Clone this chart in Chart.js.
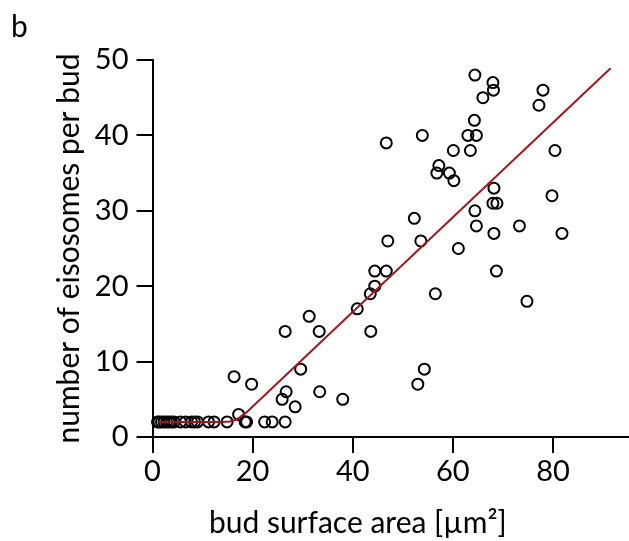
<!DOCTYPE html>
<html><head><meta charset="utf-8">
<script src="https://cdn.jsdelivr.net/npm/chart.js@4/dist/chart.umd.min.js"></script>
<style>html,body{margin:0;padding:0;background:#fff;}canvas{display:block;}</style>
</head><body>
<canvas id="c" width="629" height="541"></canvas>
<script>
// bud surface area [µm²]
const budArea = [1.0, 1.3, 1.8, 2.3, 2.8, 3.3, 3.8, 4.3, 5.6, 6.6, 7.8, 8.4, 9.0, 11.2, 12.3,
  14.9, 17.2, 18.5, 18.8, 16.3, 19.8, 22.4, 23.9, 26.5, 26.5, 25.9, 26.7, 28.5, 29.6, 31.3,
  33.3, 33.4, 38.0, 40.9, 43.6, 43.5, 44.4, 44.4, 46.7, 47.0, 46.7, 52.3, 53.0, 54.3, 53.6,
  53.9, 56.5, 56.8, 57.2, 59.3, 60.1, 60.2, 61.1, 63.0, 63.5, 64.3, 64.4, 64.7, 64.4, 64.7,
  66.0, 68.0, 68.1, 68.2, 68.0, 68.8, 68.2, 68.7, 70.9, 73.3, 74.8, 77.2, 78.0, 79.8, 80.4,
  81.8, 91.5];
// number of eisosomes per bud
const eisosomes = [2, 2, 2, 2, 2, 2, 2, 2, 2, 2, 2, 2, 2, 2, 2,
  2, 3, 2, 2, 8, 7, 2, 2, 2, 14, 5, 6, 4, 9, 16,
  14, 6, 5, 17, 14, 19, 20, 22, 22, 26, 39, 29, 7, 9, 26,
  40, 19, 35, 36, 35, 38, 34, 25, 40, 38, 42, 48, 40, 30, 28,
  45, 47, 46, 33, 31, 31, 27, 22, 51, 28, 18, 44, 46, 32, 38,
  27, 43];
// fitted curve
const fitArea = [1.2, 14.0, 15.5, 16.5, 17.5, 18.8, 91.5];
const fitCount = [2, 2, 2.05, 2.25, 2.65, 3.3, 48.9];
const xTickValues = [0, 20, 40, 60, 80];
const yTickValues = [0, 10, 20, 30, 40, 50];

const FONT = 'Lato';
const FS = 29;
const TFS = 30;
const scatterData = budArea.map((x, i) => ({x: x, y: eisosomes[i]}));
const fitData = fitArea.map((x, i) => ({x: x, y: fitCount[i]}));

const extendAxis = {
  id: 'extendAxis',
  afterDraw(chart) {
    const {ctx, chartArea} = chart;
    const y = Math.round(chart.scales.x.top);
    ctx.save();
    ctx.strokeStyle = '#000';
    ctx.lineWidth = 2;
    ctx.beginPath();
    ctx.moveTo(chartArea.right - 1, y);
    ctx.lineTo(chart.width, y);
    ctx.stroke();
    ctx.restore();
  }
};

new Chart(document.getElementById('c'), {
  type: 'scatter',
  data: {
    datasets: [
      {type: 'line', data: fitData, borderColor: '#a3161b', borderWidth: 2, pointRadius: 0, tension: 0, fill: false, clip: false},
      {data: scatterData, pointStyle: 'circle', pointRadius: 5.5, borderWidth: 2, borderColor: '#000', backgroundColor: 'rgba(0,0,0,0)', clip: false}
    ]
  },
  options: {
    responsive: false,
    animation: false,
    devicePixelRatio: 1,
    events: [],
    layout: {padding: {left: 11, right: 66, top: 0, bottom: 0}},
    plugins: {
      legend: {display: false},
      tooltip: {enabled: false},
      title: {display: true, text: 'b', align: 'start', color: '#000',
        font: {family: FONT, size: TFS, weight: 'normal'}, padding: {top: 9, bottom: 15}}
    },
    scales: {
      x: {
        type: 'linear', min: 0, max: 82,
        afterFit(s) { s.height = 104; },
        afterBuildTicks(s) { s.ticks = xTickValues.map(v => ({value: v})); },
        ticks: {stepSize: 20, includeBounds: false, color: '#000', padding: 1, font: {family: FONT, size: FS}},
        grid: {drawOnChartArea: false, drawTicks: true, tickLength: 16, color: '#000', lineWidth: 2},
        border: {display: true, color: '#000', width: 2},
        title: {display: true, text: 'bud surface area [µm²]', color: '#000', font: {family: FONT, size: TFS}, padding: {top: 0, bottom: 0}}
      },
      y: {
        type: 'linear', min: 0, max: 50,
        afterFit(s) { s.width = 141.5; },
        afterBuildTicks(s) { s.ticks = yTickValues.map(v => ({value: v})); },
        ticks: {stepSize: 10, color: '#000', padding: 8, font: {family: FONT, size: FS}},
        grid: {drawOnChartArea: false, drawTicks: true, tickLength: 16, color: '#000', lineWidth: 2},
        border: {display: true, color: '#000', width: 2},
        title: {display: true, text: 'number of eisosomes per bud', color: '#000', font: {family: FONT, size: TFS}, padding: {top: 40.5, bottom: 0}}
      }
    }
  },
  plugins: [extendAxis]
});
</script>
</body></html>
